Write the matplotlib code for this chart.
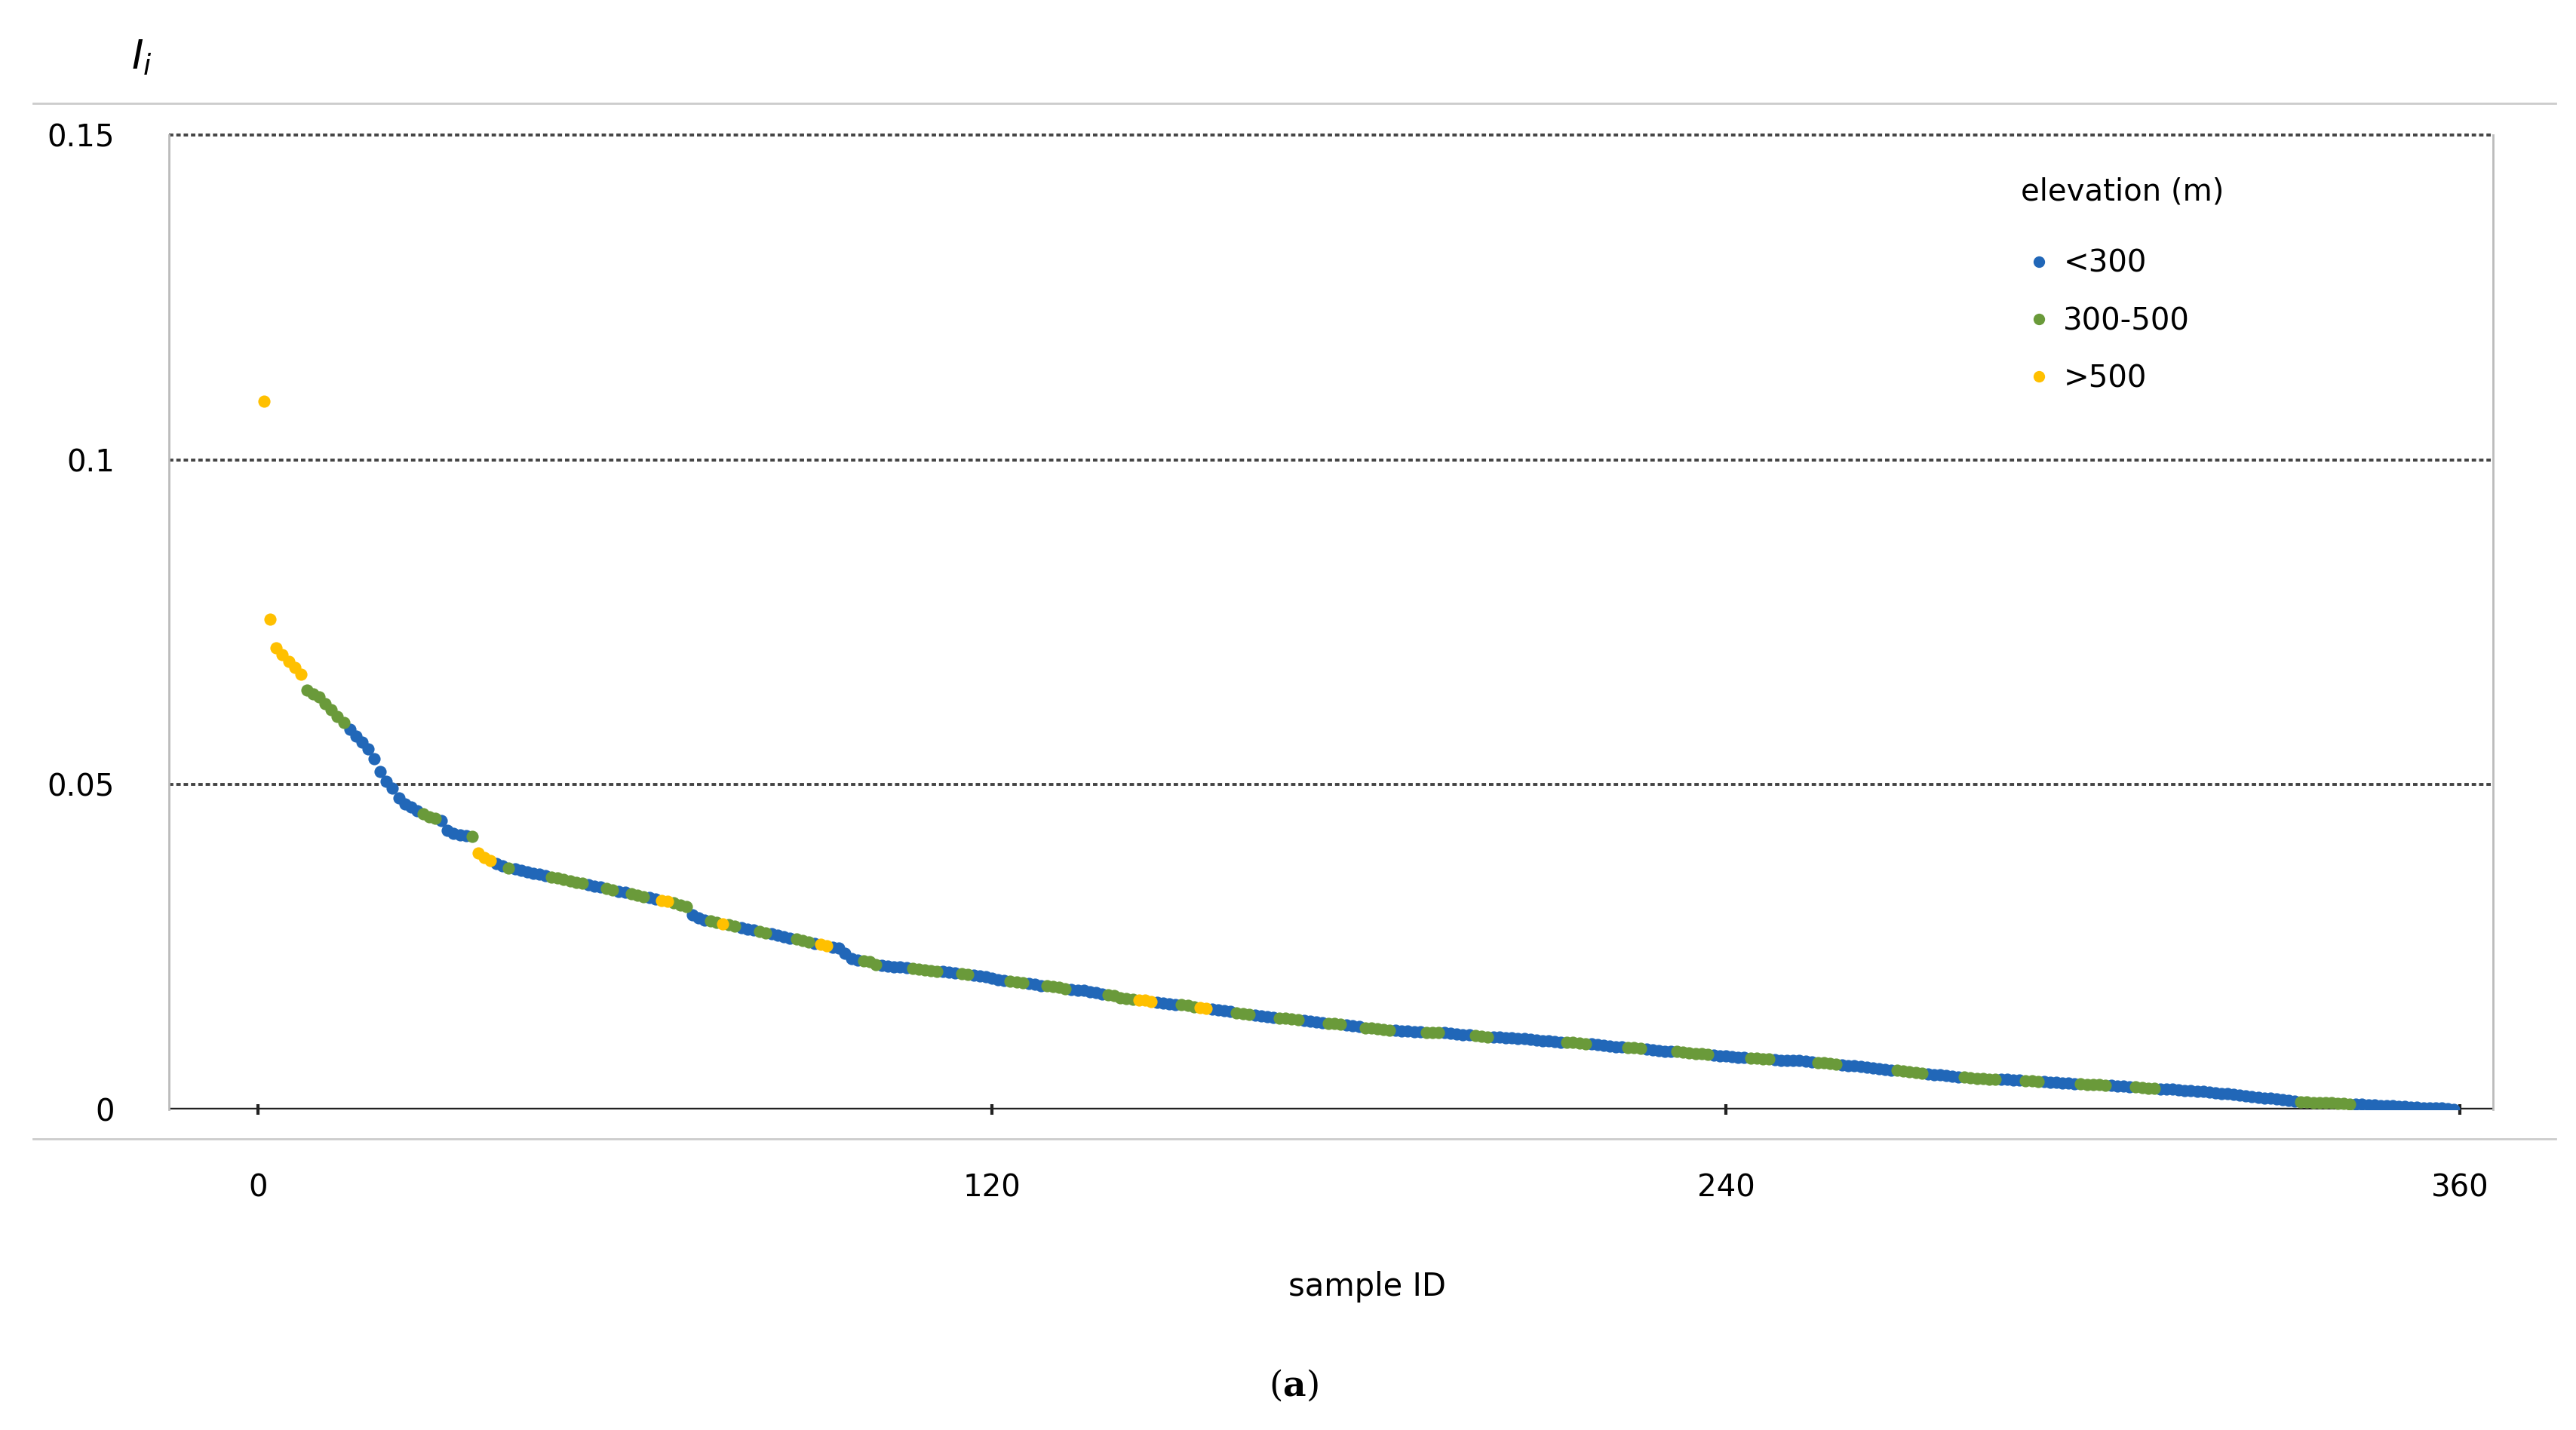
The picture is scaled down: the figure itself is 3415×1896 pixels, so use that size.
import numpy as np
import matplotlib.pyplot as plt
from matplotlib.lines import Line2D

# I_i values in units of 1e-4, sorted by sample rank
vals_e4 = [
    1090, 755, 710, 700, 690, 680, 670, 645, 640, 635, 625, 615, 605, 595, 585, 575, 565, 555, 540, 520,
    505, 495, 480, 470, 465, 460, 455, 450, 448, 445, 430, 425, 423, 422, 420, 395, 388, 383, 378, 375,
    372, 370, 368, 366, 364, 362, 360, 358, 356, 354, 352, 350, 348, 346, 344, 342, 340, 338, 336, 334,
    332, 330, 328, 326, 324, 322, 320, 318, 315, 312, 300, 295, 292, 290, 288, 286, 284, 282, 280, 278,
    276, 274, 272, 270, 268, 266, 264, 262, 260, 258, 256, 254, 252, 250, 248, 240, 232, 230, 229, 228,
    223, 222, 221, 220, 219, 218, 217, 216, 215, 214, 213, 212, 211, 210, 209, 208, 207, 205, 204, 202,
    200, 199, 198, 196, 195, 194, 193, 191, 190, 189, 188, 186, 185, 184, 183, 181, 180, 178, 177, 175,
    172, 171, 170, 169, 168, 166, 165, 164, 163, 162, 161, 160, 158, 157, 156, 155, 153, 152, 151, 149,
    147, 146, 145, 144, 143, 142, 141, 140, 139, 138, 137, 136, 135, 134, 133, 132, 131, 130, 129, 128,
    126, 125, 124, 123, 122, 122, 121, 121, 120, 120, 119, 119, 118, 118, 117, 116, 115, 115, 114, 113,
    112, 111, 111, 110, 110, 109, 109, 108, 107, 106, 106, 105, 104, 103, 103, 102, 101, 101, 100, 99,
    98, 97, 96, 95, 95, 94, 93, 92, 91, 90, 89, 89, 88, 87, 86, 86, 85, 84, 83, 82,
    81, 80, 80, 79, 79, 78, 78, 77, 76, 76, 75, 75, 74, 73, 72, 72, 71, 70, 69, 68,
    67, 66, 65, 64, 63, 62, 61, 60, 59, 58, 57, 56, 55, 54, 53, 52, 51, 50, 50, 49,
    48, 48, 47, 47, 46, 46, 45, 45, 44, 44, 43, 43, 42, 42, 41, 41, 40, 40, 39, 39,
    38, 37, 37, 36, 36, 35, 35, 34, 33, 33, 32, 31, 31, 30, 29, 29, 28, 28, 27, 26,
    25, 24, 23, 22, 21, 20, 19, 18, 17, 16, 15, 14, 13, 12, 12, 11, 11, 10, 10, 9,
    9, 8, 8, 8, 7, 7, 6, 6, 6, 5, 5, 4, 4, 3, 3, 2, 2, 1, 0,
]

# elevation class per point: b = <300, g = 300-500, y = >500
classes = (
    "yyyyyyygggggggbbbbbb" "bbbbbbgggbbbbbgyyybb" "gbbbbbbggggggbbbggbb"
    "gggbbyygggbbbggyggbb" "bggbbbbgggbyybbbbbgg" "gbbbbbgggggbbbggbbbb"
    "bbgggbbbggggbbbbbbgg" "gggyyybbbbgggyybbbbg" "ggbbbbggggbbbbgggbbb"
    "gggggbbbbbgggbbbbbgg" "gbbbbbbbbbbbbggggbbb" "bbbgggbbbbbggggggbbb"
    "bbbggggbbbbbbbggggbb" "bbbbbbbgggggbbbbbbgg" "ggggbbbbgggbbbbbbggg"
    "ggbbbbggggbbbbbbbbbb" "bbbbbbbbbbbbbggggggg" "ggbbbbbbbbbbbbbbbbb"
)

labels = ["<300", "300-500", ">500"]
keys = ["b", "g", "y"]
colors = {"b": "#2167b8", "g": "#6a9a3a", "y": "#ffc000"}

vals = np.array(vals_e4) / 1e4
ids = np.arange(len(vals)) + 1
cls = np.array(list(classes))

fig = plt.figure(figsize=(17.08, 9.48), dpi=200)
ax = fig.add_axes([0.0657, 0.2241, 0.9018, 0.6816])

for k in keys:
    m = cls == k
    ax.scatter(ids[m], vals[m], s=34, color=colors[k], linewidths=0, zorder=3)

ax.set_xlim(-14.5, 365.4)
ax.set_ylim(0, 0.15)
for yv in [0.05, 0.1, 0.15]:
    ax.axhline(yv, color="#444444", lw=1.4, ls=(0, (1.5, 1.0)), zorder=1, clip_on=False)
ax.axhline(0, color="#222222", lw=1.6, zorder=2)

for s in ax.spines.values():
    s.set_color("#bbbbbb")
    s.set_linewidth(1)
ax.spines["bottom"].set_visible(False)
ax.spines["top"].set_visible(False)

ax.set_xticks([0, 120, 240, 360])
ax.set_yticks([0, 0.05, 0.1, 0.15])
ax.set_yticklabels(["0", "0.05", "0.1", "0.15"])
ax.tick_params(axis="y", length=0, labelsize=14.5, pad=26)
ax.tick_params(axis="x", direction="inout", length=5, width=1.5, color="#222222",
               labelsize=14.5, pad=28)

# outer light lines across the figure
for fy in [1 - 63 / 870, 1 - 693 / 870]:
    fig.add_artist(Line2D([20 / 1568, 1555 / 1568], [fy, fy], color="#cccccc", lw=1))

fig.text(80 / 1568, 1 - 35 / 870, r"$I_i$", fontsize=19, va="center", ha="left")
fig.text(832 / 1568, 1 - 783 / 870, "sample ID", fontsize=15, ha="center", va="center")
fig.text(787 / 1568, 1 - 843 / 870, r"($\mathbf{a}$)", fontsize=17, ha="center", va="center",
         family="DejaVu Serif", math_fontfamily="dejavuserif")

handles = [Line2D([], [], ls="", marker="o", ms=4.5, color=colors[k]) for k in keys]
leg = ax.legend(handles, labels, title="elevation (m)", frameon=False, fontsize=14.5,
                title_fontsize=14.5, loc="upper left", bbox_to_anchor=(0.785, 0.985),
                labelspacing=0.9, handletextpad=0.2, handlelength=1.2, alignment="left")
leg._legend_box.sep = 20

fig.savefig("out.png", dpi=200)
